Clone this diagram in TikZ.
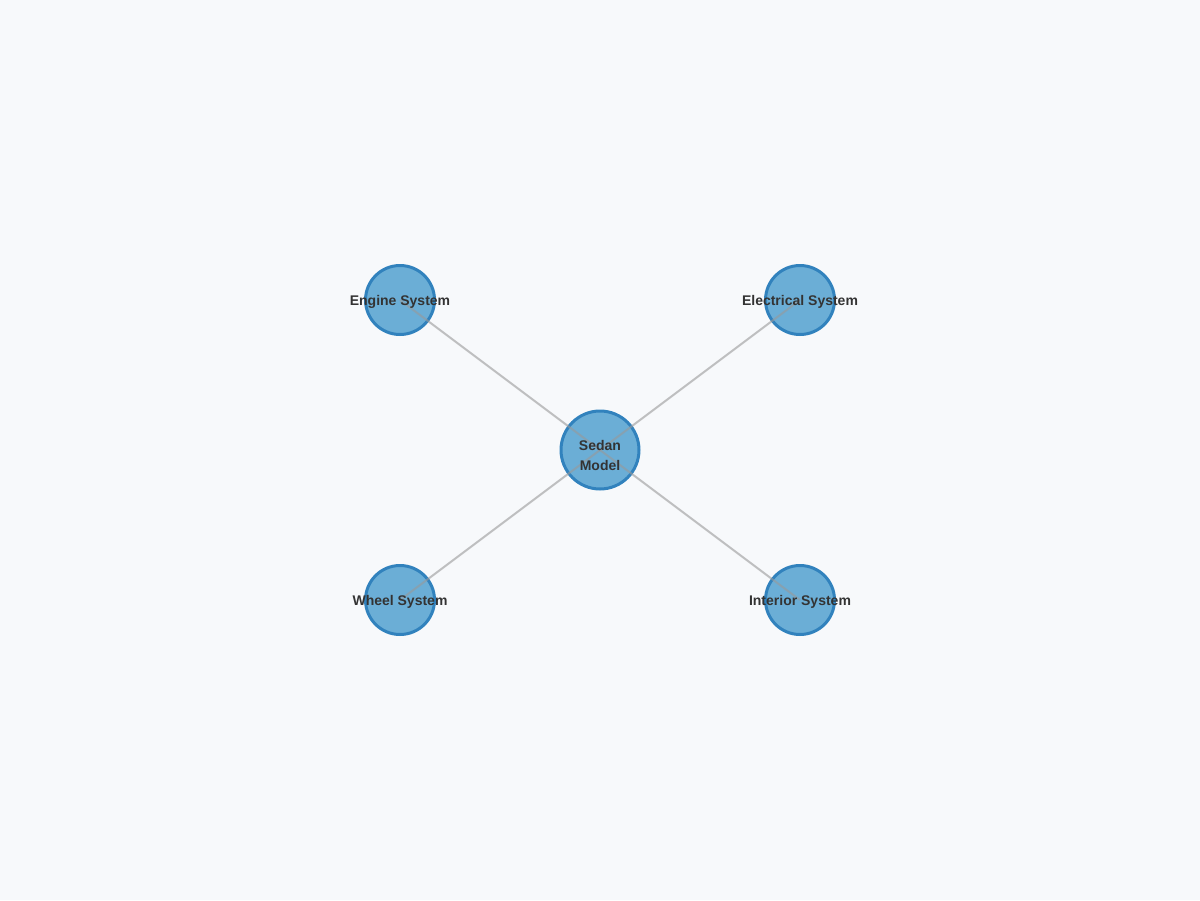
\documentclass[tikz,border=0pt]{standalone}
\usepackage{fontspec}
\setmainfont{Liberation Sans}
\definecolor{bgcol}{HTML}{F7F9FB}
\definecolor{nodefill}{HTML}{6BAED6}
\definecolor{nodeline}{HTML}{3182BD}
\definecolor{edgecol}{HTML}{999999}
\definecolor{textcol}{HTML}{333333}
\begin{document}
\begin{tikzpicture}[x=0.75pt,y=-0.75pt,
  hub/.style={circle,draw=nodeline,fill=nodefill,line width=2.25pt,minimum size=58.5pt,inner sep=0pt},
  part/.style={circle,draw=nodeline,fill=nodefill,line width=2.25pt,minimum size=51.75pt,inner sep=0pt},
  link/.style={draw=edgecol,draw opacity=0.6,line width=1.5pt},
  lbl/.style={text=textcol,font=\fontsize{10.5}{15}\selectfont\bfseries,align=center,inner sep=0pt,yshift=-1.5pt}]
  \fill[bgcol] (0,0) rectangle (1200,900);
  \useasboundingbox (0,0) rectangle (1200,900);
  % circles
  \node[hub]  (sedan) at (600,450) {};
  \node[part] (engine) at (400,300) {};
  \node[part] (elec) at (800,300) {};
  \node[part] (wheel) at (400,600) {};
  \node[part] (inter) at (800,600) {};
  % links, centre to centre, over the fills
  \foreach \n in {engine,elec,wheel,inter}
    \draw[link] (sedan.center) -- (\n.center);
  % labels on top
  \node[lbl,yshift=-2.25pt] at (sedan.center) {Sedan\\Model};
  \node[lbl] at (engine.center) {Engine System};
  \node[lbl] at (elec.center) {Electrical System};
  \node[lbl] at (wheel.center) {Wheel System};
  \node[lbl] at (inter.center) {Interior System};
\end{tikzpicture}
\end{document}
